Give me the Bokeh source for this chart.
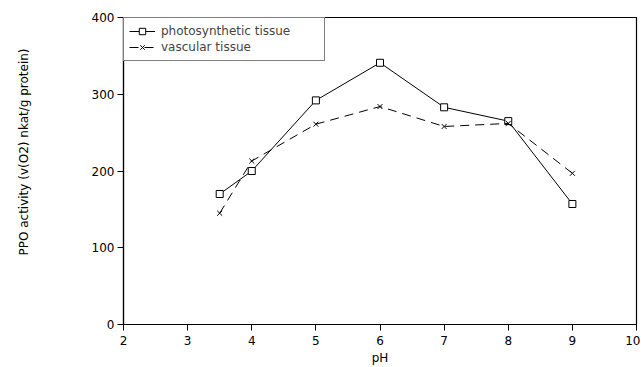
from bokeh.plotting import figure
from bokeh.models import Range1d, FixedTicker, Legend, LegendItem, Title
from bokeh.embed import file_html
from bokeh.resources import INLINE

ph = [3.5, 4, 5, 6, 7, 8, 9]
photosynthetic = [170, 200, 292, 341, 283, 265, 157]
vascular = [145, 213, 261, 284, 258, 262, 197]
x_ticks = [2, 3, 4, 5, 6, 7, 8, 9, 10]
y_ticks = [0, 100, 200, 300, 400]
y_title = "PPO activity (v(O2) nkat/g protein)"
x_title = "pH"

FONT = "DejaVu Sans"
W, H = 640, 367

p = figure(width=W, height=H, output_backend="svg", toolbar_location=None,
           x_range=Range1d(2, 10), y_range=Range1d(0, 400),
           min_border_left=123, min_border_right=4, min_border_top=17, min_border_bottom=41)

p.xgrid.visible = False
p.ygrid.visible = False
p.outline_line_color = "black"
p.outline_line_width = 1.2
p.background_fill_color = "white"
p.border_fill_color = "white"

for ax in (p.xaxis[0], p.yaxis[0]):
    ax.axis_line_color = "black"
    ax.axis_line_width = 1.2
    ax.major_tick_line_color = "black"
    ax.minor_tick_line_color = None
    ax.major_tick_in = 0
    ax.major_tick_out = 6
    ax.major_label_text_font = FONT
    ax.major_label_text_font_size = "12px"
    ax.major_label_text_color = "black"
    ax.axis_label_text_font = FONT
    ax.axis_label_text_font_size = "12px"
    ax.axis_label_text_font_style = "normal"
    ax.axis_label_text_color = "black"

p.xaxis.ticker = FixedTicker(ticks=x_ticks)
p.yaxis.ticker = FixedTicker(ticks=y_ticks)
p.xaxis.axis_label = x_title
p.xaxis.major_label_standoff = 5
p.xaxis.axis_label_standoff = 3
p.yaxis.major_label_standoff = 3

# empty spacer panel between the y axis and its title
spacer = Title(text=" ", standoff=37, text_font=FONT, text_font_size="12px",
               text_color="white")
p.add_layout(spacer, "left")

ytitle = Title(text=y_title, align="right", offset=31, standoff=10,
               text_font=FONT, text_font_size="12px", text_font_style="normal",
               text_color="black")
p.add_layout(ytitle, "left")

l1 = p.line(ph, photosynthetic, line_color="black", line_width=1)
m1 = p.scatter(ph, photosynthetic, marker="square", size=7, fill_color="white",
               line_color="black", line_width=1)
l2 = p.line(ph, vascular, line_color="black", line_width=1, line_dash="9 6")
m2 = p.scatter(ph, vascular, marker="x", size=7, line_color="black", line_width=1)

legend = Legend(items=[LegendItem(label="photosynthetic tissue", renderers=[l1, m1]),
                       LegendItem(label="vascular tissue", renderers=[l2, m2])],
                location="top_left")
legend.border_line_color = "black"
legend.border_line_width = 1.2
legend.border_radius = 0
legend.margin = 0
legend.padding = 5
legend.spacing = 0
legend.label_text_font = FONT
legend.label_text_font_size = "12px"
legend.label_height = 16
legend.glyph_height = 16
legend.glyph_width = 26
legend.label_standoff = 6
legend.label_width = 158
legend.background_fill_alpha = 1
p.add_layout(legend)

open("out.html", "w").write(file_html(p, INLINE))
